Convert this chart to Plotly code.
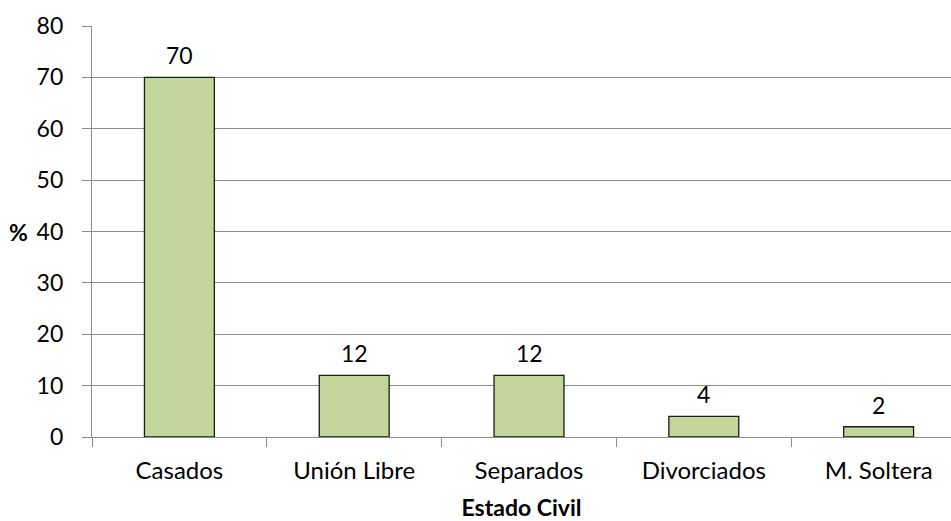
import plotly.graph_objects as go

categories = ["Casados", "Unión Libre", "Separados", "Divorciados", "M. Soltera"]
values = [70, 12, 12, 4, 2]
y_ticks = [0, 10, 20, 30, 40, 50, 60, 70, 80]

FONT = "Lato, Open Sans, sans-serif"
GRID = "#8c8c8c"
FS = 23

fig = go.Figure(go.Bar(
    x=categories, y=values, width=0.4,
    marker=dict(color="#C3D69B", line=dict(color="#1a1a1a", width=1.3)),
    hoverinfo="skip",
))

annotations = [dict(
    x=c, y=v, xref="x", yref="y", text=str(v), showarrow=False,
    xanchor="center", yanchor="bottom", yshift=6,
    font=dict(family=FONT, size=FS, color="#000"),
) for c, v in zip(categories, values)]
annotations.append(dict(
    text="<b>%</b>", xref="paper", yref="paper", x=-0.085, y=0.5,
    xanchor="center", yanchor="middle", showarrow=False,
    font=dict(family=FONT, size=FS, color="#000"),
))

fig.update_layout(
    width=951, height=521,
    margin=dict(l=92, r=0, t=26, b=84, autoexpand=False),
    paper_bgcolor="white", plot_bgcolor="white",
    showlegend=False,
    font=dict(family=FONT, size=FS, color="#000"),
    xaxis=dict(
        range=[-0.5, 4.414], type="category", automargin=False,
        showline=True, linecolor=GRID, linewidth=1.3,
        ticks="outside", tickson="boundaries", ticklen=9, tickcolor=GRID, tickwidth=1.3,
        showgrid=False, ticklabelstandoff=12,
        tickfont=dict(family=FONT, size=24),
        title=dict(text="<b>Estado Civil</b>", font=dict(family=FONT, size=FS), standoff=18),
    ),
    yaxis=dict(
        range=[0, 80], tickvals=y_ticks, automargin=False,
        showline=True, linecolor=GRID, linewidth=1.3,
        ticks="outside", ticklen=9, tickcolor=GRID, tickwidth=1.3,
        showgrid=True, gridcolor=GRID, gridwidth=1.3, zeroline=False,
        ticklabelstandoff=14,
        tickfont=dict(family=FONT, size=FS),
    ),
    annotations=annotations,
)

html = fig.to_html(full_html=True, include_plotlyjs=True, config={"displayModeBar": False})
html = html.replace("<body>", '<body style="margin:0;padding:0;overflow:hidden">', 1)
with open("out.html", "w", encoding="utf-8") as f:
    f.write(html)
